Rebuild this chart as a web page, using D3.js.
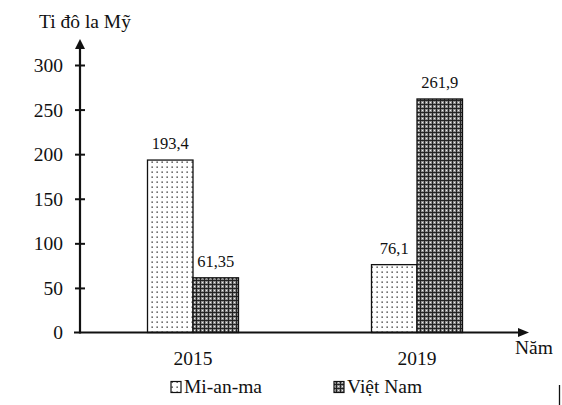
<!DOCTYPE html>
<html><head><meta charset="utf-8">
<script src="https://cdn.jsdelivr.net/npm/d3@7/dist/d3.min.js"></script>
<style>body{margin:0;background:#fff}svg{display:block}</style>
</head><body><svg id="c" width="562" height="405"></svg>
<script>
const years = ["2015", "2019"];
const series = ["Mi-an-ma", "Việt Nam"];
const myanmar = [193.4, 76.1];
const vietnam = [61.35, 261.9];
const valueLabels = [["193,4", "61,35"], ["76,1", "261,9"]];
const yTicks = [0, 50, 100, 150, 200, 250, 300];
const FONT = "'Liberation Serif'";

const svg = d3.select("#c");
const defs = svg.append("defs");
const pd = defs.append("pattern").attr("id","dots").attr("patternUnits","userSpaceOnUse").attr("width",5).attr("height",5);
pd.append("rect").attr("width",5).attr("height",5).attr("fill","#fff");
pd.append("rect").attr("x",1.5).attr("y",1.5).attr("width",1.3).attr("height",1.3).attr("fill","#222");
const pc = defs.append("pattern").attr("id","check").attr("patternUnits","userSpaceOnUse").attr("width",4).attr("height",4);
pc.append("rect").attr("width",4).attr("height",4).attr("fill","#8c8c8c");
pc.append("rect").attr("width",4).attr("height",1).attr("fill","#222");
pc.append("rect").attr("width",1).attr("height",4).attr("fill","#222");
pc.append("rect").attr("x",2).attr("y",2).attr("width",1).attr("height",1).attr("fill","#eee");
const fills = ["url(#dots)", "url(#check)"];

const x = d3.scaleBand().domain(years).range([81, 529]);
const xs = d3.scaleBand().domain(series).range([-45.5, 45.5]);
const y = d3.scaleLinear().domain([0, 300]).range([332.5, 65]);

const data = years.map((yr, i) => ({year: yr, vals: [myanmar[i], vietnam[i]], labels: valueLabels[i]}));

function txt(sel, size) { return sel.style("font-family", FONT).style("font-size", size + "px").style("fill", "#111"); }

const g = svg.append("g");
data.forEach(d => {
  const cx = x(d.year) + x.bandwidth()/2;
  series.forEach((s, j) => {
    g.append("rect")
      .attr("x", cx + xs(s)).attr("width", xs.bandwidth())
      .attr("y", y(d.vals[j])).attr("height", y(0) - y(d.vals[j]))
      .attr("fill", fills[j]).attr("stroke", "#111").attr("stroke-width", 1.3);
    txt(g.append("text").attr("x", cx + xs(s) + xs.bandwidth()/2).attr("y", y(d.vals[j]) - 11)
      .attr("text-anchor","middle"), 16.5).text(d.labels[j]);
  });
  txt(g.append("text").attr("x", cx).attr("y", 365).attr("text-anchor","middle"), 19.5).text(d.year);
});

// y axis
const ax = svg.append("g").attr("transform","translate(80,0)");
const yAxis = d3.axisLeft(y).tickValues(yTicks).tickSize(0).tickPadding(17);
ax.call(yAxis);
ax.attr("font-family", null).attr("font-size", null);
ax.select(".domain").remove();
txt(ax.selectAll(".tick text"), 19.5).attr("dy","0.33em");
ax.selectAll(".tick").filter(d => d !== 0).append("line").attr("x1",-5).attr("x2",5).attr("stroke","#111").attr("stroke-width",2);
svg.append("line").attr("x1",80).attr("x2",80).attr("y1",y(0)+1).attr("y2",46).attr("stroke","#111").attr("stroke-width",2.2);
svg.append("path").attr("d","M80,39 L75,49 L85,49 Z").attr("fill","#111");
svg.append("line").attr("x1",74).attr("x2",521).attr("y1",y(0)).attr("y2",y(0)).attr("stroke","#111").attr("stroke-width",2.2);
svg.append("path").attr("d",`M529,${y(0)} L518,${y(0)-4.5} L518,${y(0)+4.5} Z`).attr("fill","#111");

txt(svg.append("text").attr("x",39).attr("y",28), 19.5).text("Ti đô la Mỹ");
txt(svg.append("text").attr("x",515).attr("y",354), 19.5).text("Năm");

// legend
const legX = [171, 334];
series.forEach((s, j) => {
  svg.append("rect").attr("x",legX[j]).attr("y",381.5).attr("width",10).attr("height",11)
    .attr("fill",fills[j]).attr("stroke","#111").attr("stroke-width",1.2);
  txt(svg.append("text").attr("x",legX[j]+13).attr("y",393), 19.5).text(s);
});
svg.append("line").attr("x1",559.5).attr("x2",559.5).attr("y1",385).attr("y2",405).attr("stroke","#111").attr("stroke-width",1.3);
</script></body></html>
